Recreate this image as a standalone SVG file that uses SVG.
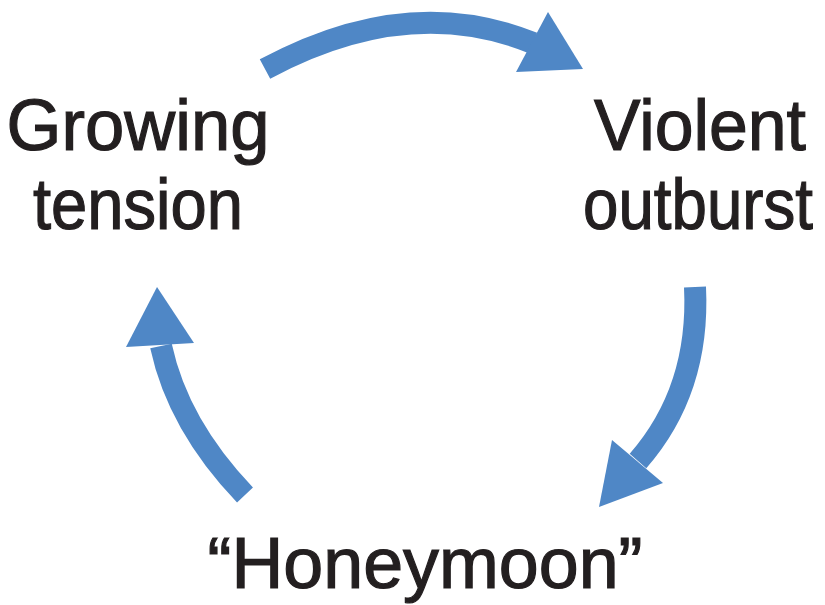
<svg xmlns="http://www.w3.org/2000/svg" width="825" height="605" viewBox="0 0 825 605">
  <style>
    .lbl { font-family: "Liberation Sans", Arial, sans-serif; font-size: 72px; fill: #231F20; stroke: #231F20; stroke-width: 1.2; text-anchor: middle; }
    .shaft { fill: none; stroke: #4F87C6; stroke-width: 22; stroke-linecap: butt; }
    .head { fill: #4F87C6; }
  </style>
  <rect width="825" height="605" fill="#FFFFFF"/>
  <g id="connectors">
    <g id="arrow-top">
      <path class="shaft" d="M265,69 Q408,-8 533,43"/>
      <polygon class="head" points="548,12 583,69 516,72"/>
    </g>
    <g id="arrow-right">
      <path class="shaft" d="M695,287 Q700,390 638,461"/>
      <polygon class="head" points="612,440 599,507 663,483"/>
    </g>
    <g id="arrow-left">
      <path class="shaft" d="M245,495 Q178,425 161,346"/>
      <polygon class="head" points="157,287 126,347 194,343"/>
    </g>
  </g>
  <g id="node-growing-tension">
    <text class="lbl" x="138" y="150" textLength="263" lengthAdjust="spacingAndGlyphs">Growing</text>
    <text class="lbl" x="138" y="229" textLength="210" lengthAdjust="spacingAndGlyphs">tension</text>
  </g>
  <g id="node-violent-outburst">
    <text class="lbl" x="700" y="150" textLength="212" lengthAdjust="spacingAndGlyphs">Violent</text>
    <text class="lbl" x="698" y="229" textLength="230" lengthAdjust="spacingAndGlyphs">outburst</text>
  </g>
  <g id="node-honeymoon">
    <text class="lbl" x="425" y="588" textLength="435" lengthAdjust="spacingAndGlyphs">“Honeymoon”</text>
  </g>
</svg>
